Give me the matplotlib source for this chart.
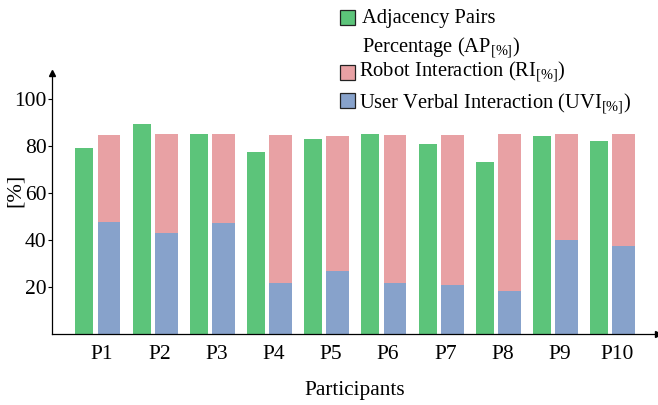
import matplotlib
matplotlib.use("Agg")
import matplotlib.pyplot as plt
from matplotlib.patches import Rectangle
import numpy as np

plt.rcParams['font.family'] = ['Liberation Serif', 'DejaVu Serif']
plt.rcParams['mathtext.fontset'] = 'custom'
plt.rcParams['mathtext.rm'] = 'Liberation Serif'
plt.rcParams['mathtext.it'] = 'Liberation Serif:italic'

participants = ["P1", "P2", "P3", "P4", "P5", "P6", "P7", "P8", "P9", "P10"]
ap = [79, 89.5, 85, 77.5, 83, 85, 81, 73, 84, 82]
uvi = [47.5, 43, 47, 21.5, 27, 21.5, 21, 18.5, 40, 37.5]
ri = [37, 42, 38, 63, 57, 63, 63.5, 66.5, 45, 47.5]

labels = ["Adjacency Pairs\nPercentage (AP$_{\\mathrm{[\\%]}}$)",
          "Robot Interaction (RI$_{\\mathrm{[\\%]}}$)",
          "User Verbal Interaction (UVI$_{\\mathrm{[\\%]}}$)"]
c_green = "#5cc47a"
c_pink = "#e8a1a4"
c_blue = "#87a2cb"

W, H = 658, 405
fig = plt.figure(figsize=(W / 100, H / 100), dpi=100)
ax = fig.add_axes([52 / W, (H - 334) / H, 1 - 52 / W, (334 - 73) / H])

x = np.arange(1, len(participants) + 1)
ax.bar(x - 0.31, ap, width=0.315, color=c_green)
ax.bar(x + 0.12, uvi, width=0.40, color=c_blue)
ax.bar(x + 0.12, ri, width=0.40, bottom=uvi, color=c_pink)

ax.set_xlim(0.123, 10.72)
ax.set_ylim(0, 111)
ax.set_xticks(x)
ax.set_xticklabels(participants, fontsize=15.5)
ax.set_yticks([20, 40, 60, 80, 100])
ax.tick_params(axis='x', length=0, pad=8)
ax.tick_params(axis='y', length=3, width=0.8, pad=1, labelsize=15.5)
for s in ["top", "right"]:
    ax.spines[s].set_visible(False)
ax.spines["left"].set_linewidth(0.9)
ax.spines["bottom"].set_linewidth(0.9)
ax.plot(1, 0, ">k", ms=4, transform=ax.transAxes, clip_on=False)
ax.plot(0, 1, "^k", ms=4, transform=ax.transAxes, clip_on=False)

ax.set_xlabel("Participants", fontsize=15.3, labelpad=12)
fig.text(15 / W, 1 - 190 / H, "[%]", rotation=90, fontsize=16, ha='center', va='center')

# legend drawn by hand so the handle sits on the first line
handles = [(c_green, 10), (c_pink, 65), (c_blue, 93)]
for col, top in handles:
    fig.add_artist(Rectangle((340 / W, 1 - (top + 15) / H), 15 / W, 15 / H,
                             facecolor=col, edgecolor="#222222", lw=0.9,
                             transform=fig.transFigure))
lines = [(362, 23, "Adjacency Pairs"),
         (362, 53, labels[0].split("\n")[1]),
         (359, 77, labels[1]),
         (359, 108, labels[2])]
for px, base, txt in lines:
    fig.text(px / W, 1 - base / H, txt, fontsize=14.8, va='baseline', ha='left')

fig.savefig("out.png", dpi=100)
